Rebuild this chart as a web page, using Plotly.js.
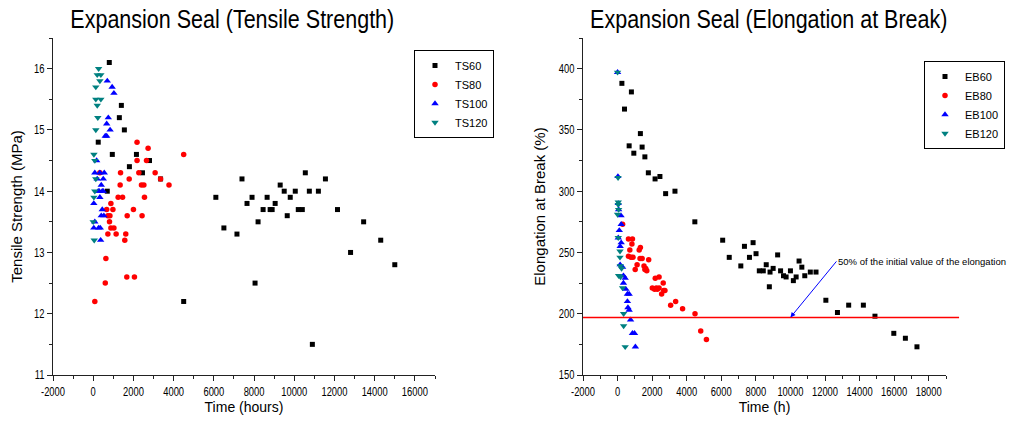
<!DOCTYPE html>
<html><head><meta charset="utf-8">
<script src="https://cdn.plot.ly/plotly-3.0.1.min.js"></script>
<style>html,body{margin:0;padding:0;background:#fff}#chart{width:1011px;height:432px}</style>
</head><body><div id="chart"></div>
<script>
// ---- Tensile strength (MPa) vs time (hours) ----
const ts60_t = [250,700,800,950,1300,1400,1550,1800,2150,2450,2800,3350,4500,6100,6500,7150,7400,7650,7900,8050,8200,8450,8650,8800,8900,9050,9300,9500,9650,9800,10050,10200,10400,10550,10750,10900,11200,11550,12150,12800,13450,14300,15000];
const ts60_v = [14.8,14.0,16.1,14.6,15.2,15.4,15.0,14.4,14.6,14.3,14.5,14.2,12.2,13.9,13.4,13.3,14.2,13.8,13.9,12.5,13.5,13.7,13.9,13.7,13.7,13.8,14.1,14.0,13.6,13.9,14.0,13.7,13.7,14.3,14.0,11.5,14.0,14.2,13.7,13.0,13.5,13.2,12.8];
const ts80_t = [80,330,600,630,670,730,730,810,830,880,880,980,1030,1140,1240,1340,1360,1460,1570,1620,1670,1690,1790,2000,2050,2180,2180,2270,2400,2430,2520,2550,2650,2730,3080,3350,3770,4500];
const ts80_v = [12.2,14.3,12.5,12.9,13.7,13.3,13.6,13.5,13.6,13.8,13.4,13.7,13.4,13.3,13.9,14.1,14.3,13.9,13.2,13.3,12.6,13.6,14.2,13.7,12.6,14.8,14.5,14.3,14.1,13.6,14.1,13.9,14.5,14.7,14.3,14.2,14.1,14.6];
const ts100_t = [30,30,80,80,170,200,250,270,300,330,330,350,370,400,400,450,450,500,500,530,550,600,670,670,700,750,840,940,1030];
const ts100_v = [13.8,13.4,13.5,14.3,14.5,14.2,14.0,13.4,14.0,13.9,14.3,13.4,13.2,14.1,13.6,13.7,14.0,14.2,14.0,13.6,14.3,14.9,14.9,15.1,15.8,15.2,15.0,15.7,15.6];
const ts120_t = [0,50,35,80,130,80,35,130,230,200,130,380,130,330,200,380,270];
const ts120_v = [13.5,13.2,13.9,14.0,14.2,14.5,14.6,15.0,15.2,15.4,15.5,15.5,15.7,15.8,15.9,15.9,16.0];

// ---- Elongation at break (%) vs time (h) ----
const eb60_t = [250,400,670,800,940,1320,1420,1580,1780,2170,2450,2780,3320,4470,6080,6460,7130,7340,7630,7840,8010,8200,8430,8600,8780,8820,9000,9260,9430,9600,9750,10000,10170,10330,10500,10660,10830,11150,11480,12050,12720,13370,14220,14890,15980,16650,17320];
const eb60_v = [388,367,337,381,331,347,336,328,315,310,312,298,300,275,260,246,239,255,246,258,249,235,235,240,222,234,237,248,235,231,230,235,227,230,243,238,231,234,234,211,201,207,207,198,184,180,173];
const eb80_t = [290,630,630,710,770,830,860,890,1020,1130,1250,1300,1320,1420,1530,1580,1630,1690,1800,2010,2140,2180,2240,2300,2400,2400,2550,2640,2670,2740,3070,3360,3760,4480,4810,5140];
const eb80_v = [273,261,247,252,246,257,261,246,236,240,252,245,254,245,239,236,237,235,244,221,220,229,221,220,230,221,216,225,219,219,207,210,204,200,186,179];
const eb100_t = [0,20,40,60,100,40,150,150,200,210,210,290,340,340,440,480,570,570,600,670,670,750,860,980,1030];
const eb100_v = [397,312,290,285,268,262,255,240,280,273,258,238,231,225,229,220,216,210,205,216,203,195,184,184,173];
const eb120_t = [0,30,40,40,0,60,40,140,140,160,230,60,170,290,350,350,440];
const eb120_v = [397,311,291,289,281,285,262,251,246,239,237,231,230,221,200,190,173];

// ---- tick labels ----
const tsTimeTicks = [-2000,0,2000,4000,6000,8000,10000,12000,14000,16000];
const ebTimeTicks = [-2000,0,2000,4000,6000,8000,10000,12000,14000,16000,18000];
const tsTimeLabels = tsTimeTicks.map(String);
const ebTimeLabels = ebTimeTicks.map(String);

const EB_INITIAL = 394;              // initial elongation value (%)
const EB_HALF = 0.5 * EB_INITIAL;    // 50% reference line
const ARROW_T = 10000;               // where the annotation arrow points (h)

const SANS = '"Liberation Sans",Arial,sans-serif';
const W = 1011, H = 432;

function mk(t, v, name, color, symbol, size, xa, ya, lg) {
  return {type:'scatter', mode:'markers', x:t, y:v, name:name, xaxis:xa, yaxis:ya, legend:lg,
          marker:{color:color, symbol:symbol, size:size, line:{width:0}}, cliponaxis:false};
}
const traces = [
  mk(ts60_t, ts60_v, 'TS60', '#000000', 'square', 5, 'x', 'y', 'legend'),
  mk(ts80_t, ts80_v, 'TS80', '#ff0000', 'circle', 5.5, 'x', 'y', 'legend'),
  mk(ts100_t, ts100_v, 'TS100', '#0000ff', 'triangle-up', 6.5, 'x', 'y', 'legend'),
  mk(ts120_t, ts120_v, 'TS120', '#008080', 'triangle-down', 6.5, 'x', 'y', 'legend'),
  mk(eb60_t, eb60_v, 'EB60', '#000000', 'square', 5, 'x2', 'y2', 'legend2'),
  mk(eb80_t, eb80_v, 'EB80', '#ff0000', 'circle', 5.5, 'x2', 'y2', 'legend2'),
  mk(eb100_t, eb100_v, 'EB100', '#0000ff', 'triangle-up', 6.5, 'x2', 'y2', 'legend2'),
  mk(eb120_t, eb120_v, 'EB120', '#008080', 'triangle-down', 6.5, 'x2', 'y2', 'legend2')
];

const axC = '#222';
function xax(dom, range, tv, tt, title, anchor) {
  return {domain:dom, range:range, anchor:anchor, tickmode:'array', tickvals:tv, ticktext:tt, tickangle:0,
    ticks:'outside', ticklen:5, tickwidth:1,
    tickcolor:axC, showline:true, linecolor:axC, linewidth:1, showgrid:false, zeroline:false,
    minor:{tickmode:'linear', dtick:1000, tick0:0, ticks:'outside', ticklen:3, tickcolor:axC, showgrid:false},
    tickfont:{family:SANS, size:12.5, color:'#000'},
    title:{text:title, font:{family:SANS, size:14, color:'#000'}, standoff:3}};
}
function yax(dom, range, dt, mdt, title, anchor) {
  return {domain:dom, range:range, anchor:anchor, tick0:0, dtick:dt, tickangle:0, ticks:'outside', ticklen:5, tickwidth:1,
    tickcolor:axC, showline:true, linecolor:axC, linewidth:1, showgrid:false, zeroline:false,
    minor:{tickmode:'linear', dtick:mdt, tick0:0, ticks:'outside', ticklen:3, tickcolor:axC, showgrid:false},
    tickfont:{family:SANS, size:12.5, color:'#000'},
    title:{text:title, font:{family:SANS, size:15, color:'#000'}, standoff:4}};
}
const yDom = [1 - 375/H, 1 - 38/H];
const layout = {
  width:W, height:H, margin:{l:0,r:0,t:0,b:0}, paper_bgcolor:'#fff', plot_bgcolor:'#fff', showlegend:true,
  xaxis: xax([53/W, 435/W], [-2000, 17000], tsTimeTicks, tsTimeLabels, 'Time (hours)', 'y'),
  yaxis: yax(yDom, [11, 16.5], 1, 0.5, 'Tensile Strength (MPa)', 'x'),
  xaxis2: xax([583/W, 946/W], [-2000, 19000], ebTimeTicks, ebTimeLabels, 'Time (h)', 'y2'),
  yaxis2: yax(yDom, [150, 425], 50, 25, 'Elongation at Break (%)', 'x2'),
  legend: {x:414/W, y:1-50/H, xanchor:'left', yanchor:'top', bordercolor:'#000', borderwidth:1, bgcolor:'#fff',
           font:{family:SANS, size:11, color:'#000'}, itemwidth:30, tracegroupgap:0},
  legend2: {x:924/W, y:1-61/H, xanchor:'left', yanchor:'top', bordercolor:'#000', borderwidth:1, bgcolor:'#fff',
           font:{family:SANS, size:11, color:'#000'}, itemwidth:30, tracegroupgap:0},
  shapes: [{type:'line', xref:'x2 domain', yref:'y2', x0:0, x1:1.036, y0:EB_HALF, y1:EB_HALF,
            line:{color:'#ff0000', width:1.5}}],
  annotations: [
    {xref:'paper', yref:'paper', x:232/W, y:1-19/H, xanchor:'center', yanchor:'middle', showarrow:false,
     text:'Expansion Seal (Tensile Strength)', font:{family:SANS, size:25, color:'#000'}},
    {xref:'paper', yref:'paper', x:769/W, y:1-19/H, xanchor:'center', yanchor:'middle', showarrow:false,
     text:'Expansion Seal (Elongation at Break)', font:{family:SANS, size:25, color:'#000'}},
    {xref:'x2', yref:'y2', x:ARROW_T, y:EB_HALF, ax:46, ay:-56, showarrow:true, arrowhead:2, arrowsize:1,
     arrowwidth:1, arrowcolor:'#0000ff', xanchor:'left', yanchor:'middle', align:'left',
     text:'50% of the initial value of the elongation', font:{family:SANS, size:9.5, color:'#000'}}
  ]
};

// horizontally condense text (the original uses a narrow face)
function squeeze(nodes, f) {
  nodes.forEach(function(t) {
    const w = t.getComputedTextLength();
    if (w > 0) { t.setAttribute('textLength', (w * f).toFixed(2)); t.setAttribute('lengthAdjust', 'spacingAndGlyphs'); }
  });
}
Plotly.newPlot('chart', traces, layout, {staticPlot:true, displayModeBar:false}).then(function(gd) {
  squeeze(gd.querySelectorAll('.xtick text, .x2tick text, .ytick text, .y2tick text'), 0.75);
  const ann = gd.querySelectorAll('.annotation-text');
  if (ann.length >= 2) squeeze([ann[0], ann[1]], 0.86);
});
</script></body></html>
